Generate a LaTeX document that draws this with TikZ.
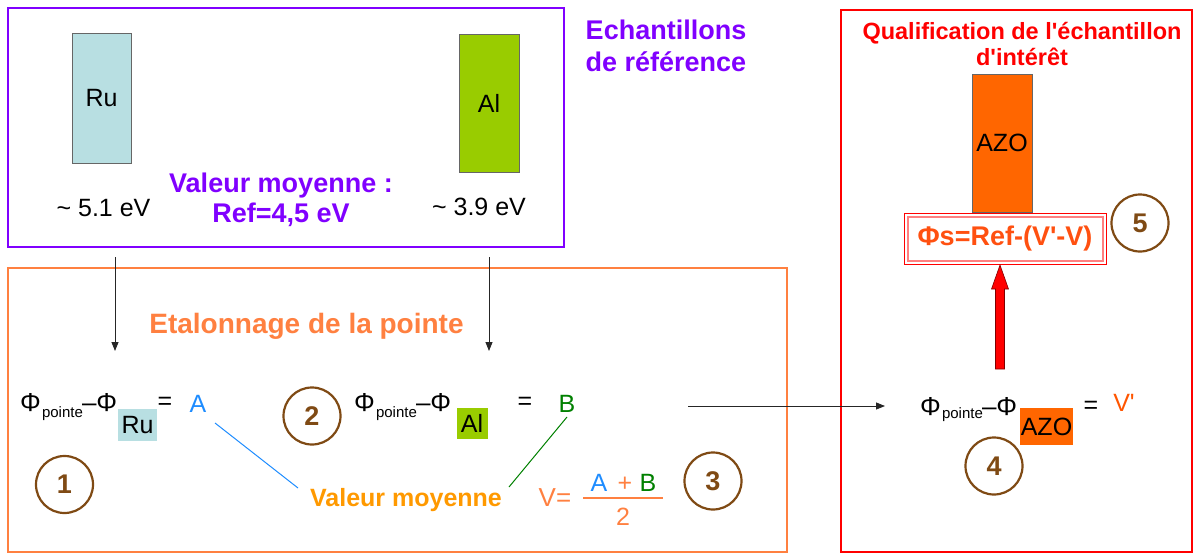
\documentclass[tikz,border=0pt]{standalone}
\usepackage{fontspec}
\setmainfont{Liberation Sans}[Ligatures=TeXOff]
\usetikzlibrary{arrows.meta}
\definecolor{purp}{HTML}{8000FF}
\definecolor{salmon}{HTML}{FF8040}
\definecolor{orng}{HTML}{FF9900}
\definecolor{bluA}{HTML}{1E8CFF}
\definecolor{grnB}{HTML}{008000}
\definecolor{brn}{HTML}{7F4A14}
\definecolor{ruc}{HTML}{B8DFE2}
\definecolor{alc}{HTML}{99CC00}
\definecolor{azoc}{HTML}{FF6600}
\definecolor{phisc}{HTML}{FF5010}
\definecolor{pinkb}{HTML}{FF8080}
\definecolor{vpc}{HTML}{FF5500}
\newcommand\fsz[1]{\fontsize{#1}{#1}\selectfont}
\newcommand\sq{\char"0027}
\begin{document}
\begin{tikzpicture}[x=1pt,y=-1pt,
  txt/.style={inner sep=0pt,outer sep=0pt},
  num/.style={circle,draw=brn,line width=2.2pt,minimum size=57pt,inner sep=0pt,
    font=\fsz{27}\bfseries,text=brn},
  sample/.style={draw=black!60,line width=0.9pt,inner sep=0pt,font=\fsz{25}},
  subbox/.style={inner sep=0pt,font=\fsz{25}},
  arr/.style={-{Triangle[length=9pt,width=7pt]},line width=0.8pt,black!85},
  phi/.style={txt,font=\fsz{26},anchor=base west},
  sub/.style={txt,font=\fsz{15},anchor=base west},
  eqs/.style={txt,font=\fsz{25}}]
\useasboundingbox (0,0) rectangle (1195,554);

% frames
\draw[purp,line width=2.5pt] (8,8) rectangle (564,247);
\draw[salmon,line width=2.5pt] (8,268) rectangle (787,552);
\draw[red,line width=2.5pt] (841,10) rectangle (1192,552);

% reference samples
\node[sample,fill=ruc,minimum width=59pt,minimum height=130pt] (ru) at (101.5,98) {Ru};
\node[sample,fill=alc,minimum width=60pt,minimum height=138pt] (al) at (489,103) {Al};
\node[txt,font=\fsz{25}] (ruv) at (103.5,208) {\char"007E\ 5.1 eV};
\node[txt,font=\fsz{25}] (alv) at (479,207) {\char"007E\ 3.9 eV};
\node[txt,font=\fsz{27}\bfseries,text=purp,align=center] (moy) at (281,200)
  {Valeur moyenne :\\[3pt]Ref=4,5 eV};
\node[txt,font=\fsz{27}\bfseries,text=purp,align=center] (ech) at (666,46)
  {Echantillons\\[5pt]de référence};

% down arrows
\coordinate (d1s) at (115,257); \coordinate (d1e) at (115,351);
\coordinate (d2s) at (489,257); \coordinate (d2e) at (489,351);
\draw[arr] (d1s) -- (d1e);
\draw[arr] (d2s) -- (d2e);

\node[txt,font=\fsz{28}\bfseries,text=salmon,anchor=base] (etal) at (306.5,333) {Etalonnage de la pointe};

% equation 1
\node[phi] (e1phi) at (20,411) {Φ};
\node[sub] (e1sub) at (42,417) {pointe};
\node[phi] (e1phi2) at (82,411) {–Φ};
\node[subbox,fill=ruc,minimum width=39pt,minimum height=32pt] (e1ru) at (137.5,425) {Ru};
\node[eqs] (e1eq) at (165,403) {=};
\node[eqs,text=bluA] (e1A) at (198,404) {A};
\node[num] (c1) at (64.5,484.5) {1};

% equation 2
\node[num] (c2) at (312,416) {2};
\node[phi] (e2phi) at (354,411) {Φ};
\node[sub] (e2sub) at (376,417) {pointe};
\node[phi] (e2phi2) at (416,411) {–Φ};
\node[subbox,fill=alc,minimum width=31pt,minimum height=31pt] (e2al) at (472,423) {Al};
\node[eqs] (e2eq) at (525,403) {=};
\node[eqs,text=grnB] (e2B) at (567,404) {B};

% average
\node[txt,font=\fsz{25}\bfseries,text=orng,anchor=base] (vmoy) at (406,506) {Valeur moyenne};
\coordinate (la1) at (215,423); \coordinate (la2) at (298,488);
\coordinate (lb1) at (567,417); \coordinate (lb2) at (509,487);
\draw[bluA,line width=1pt] (la1) -- (la2);
\draw[grnB,line width=1pt] (lb1) -- (lb2);
\node[eqs,font=\fsz{26},text=salmon] (veq) at (555,498) {V=};
\node[eqs,text=bluA] (fA) at (599,483) {A};
\node[eqs,text=salmon] (fp) at (625,484) {+};
\node[eqs,text=grnB] (fB) at (648,483) {B};
\coordinate (fl1) at (583,498); \coordinate (fl2) at (663,498);
\draw[salmon,line width=2pt] (fl1) -- (fl2);
\node[eqs,text=salmon] (f2) at (623,517) {2};
\node[num] (c3) at (713,481) {3};

% horizontal arrow
\coordinate (hs) at (688,406); \coordinate (he) at (885,406);
\draw[arr] (hs) -- (he);

% qualification
\node[txt,font=\fsz{23.5}\bfseries,text=red,align=center] (qual) at (1022,44)
  {Qualification de l\sq échantillon\\[2pt]d\sq intérêt};
\node[sample,fill=azoc,minimum width=60pt,minimum height=138pt] (azo) at (1002,143) {AZO};
\node[txt,draw=red,line width=1pt,minimum width=202pt,minimum height=51pt,
  font=\fsz{27}\bfseries,text=phisc] (phis) at (1005,238.5) {Φs=Ref-(V\sq-V)};
\draw[pinkb,line width=1.4pt] ([shift={(4,4)}]phis.north west) rectangle ([shift={(-3,-3)}]phis.south east);
\node[num] (c5) at (1140,223) {5};

% equation 4
\node[phi] (e4phi) at (920,415) {Φ};
\node[sub] (e4sub) at (942,418) {pointe};
\node[phi] (e4phi2) at (982,415) {–Φ};
\node[subbox,fill=azoc,minimum width=53pt,minimum height=37pt] (e4azo) at (1046.5,426.5) {AZO};
\node[eqs] (e4eq) at (1091,407) {=};
\node[eqs,text=vpc] (e4V) at (1124,403) {V\sq};
\node[num] (c4) at (994,466) {4};

% red arrow
\coordinate (rb) at (1000,369);
\coordinate (rt) at (1000,265);
\draw[fill=red,draw=red!50!black,line width=0.6pt]
  (rb) ++(-4.5,0) -- ++(0,-80) -- ++(-4,0) -- (rt) -- ++(8.5,24) -- ++(-4,0) -- ++(0,80) -- cycle;
\end{tikzpicture}
\end{document}
